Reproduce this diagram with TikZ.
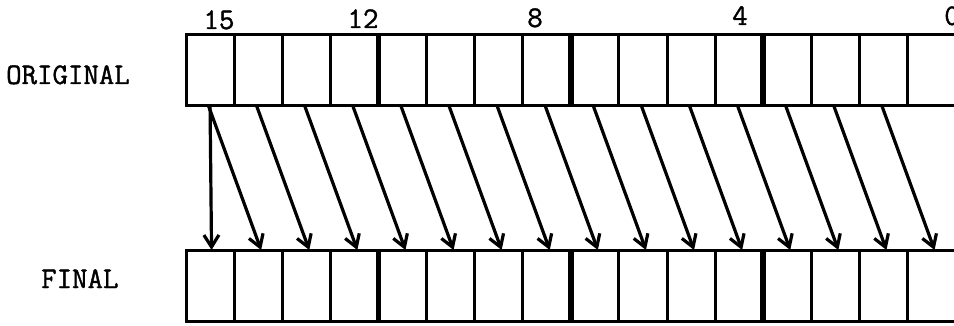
\documentclass[tikz,border=0pt]{standalone}
\usepackage{fontspec}
\newfontfamily\twfont{Latin Modern Mono}[FakeBold=1.3]
\usetikzlibrary{arrows.meta}
\begin{document}
\begin{tikzpicture}[x=1pt,y=-1pt,
  cell/.style={draw, line width=3pt, minimum width=48.1pt, minimum height=71pt, inner sep=0pt, outer sep=0pt},
  sepline/.style={line width=5.5pt},
  arr/.style={line width=3.2pt, -{Straight Barb[length=12pt,width=15pt]}},
  lbl/.style={font=\fontsize{30}{36}\selectfont\twfont, inner sep=0pt, anchor=base west},
  num/.style={font=\fontsize{30}{36}\selectfont\twfont, inner sep=0pt, anchor=base}]
\useasboundingbox (0,0) rectangle (954,326);
\foreach \i in {0,...,15}{
  \node[cell] (t\i) at ({186+(\i+0.5)*48.1},70.5) {};
  \node[cell] (b\i) at ({186+(\i+0.5)*48.1},285.5) {};
}
\foreach \i in {3,7,11}{
  \draw[sepline] (t\i.north east) -- (t\i.south east);
  \draw[sepline] (b\i.north east) -- (b\i.south east);
}
\node[num] (n15) at (219,29) {15};
\node[num] (n12) at (363,28) {12};
\node[num] (n8) at (535,27) {8};
\node[num] (n4) at (740,25) {4};
\node[num] (n0) at (952,25) {0};
\node[lbl] (orig) at (6,84) {ORIGINAL};
\node[lbl] (fin) at (41,288) {FINAL};
\draw[arr] (t0.south) -- ([xshift=1.5pt]b0.north);
\foreach \i [evaluate=\i as \j using int(\i+1)] in {0,...,14}{
  \draw[arr] ([xshift=-1.5pt]t\i.south) -- ([xshift=3pt]b\j.north);
}
\end{tikzpicture}
\end{document}
